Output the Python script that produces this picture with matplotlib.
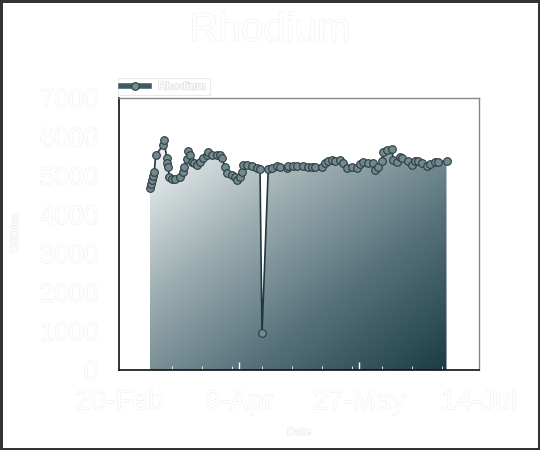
import matplotlib
matplotlib.use('Agg')
import matplotlib.pyplot as plt
import matplotlib.dates as mdates
import matplotlib.patheffects as pe
from matplotlib.colors import LinearSegmentedColormap
import numpy as np
import datetime as dt

# series: days after 20-Feb-2007 and price in USD/oz
start_date = dt.datetime(2007, 2, 20)
day_offset = [12.4, 12.8, 13.2, 13.7, 14.1, 14.7, 17.7, 18.0, 19.1, 19.3,
              19.7, 20.1, 21.1, 22.4, 24.4, 25.5, 26.1, 27.1, 27.7, 28.4,
              29.1, 30.0, 31.1, 32.4, 33.7, 35.1, 35.7, 37.1, 39.1, 40.4,
              41.1, 42.4, 43.1, 45.1, 46.4, 47.1, 48.4, 49.1, 49.7, 51.1,
              53.1, 55.1, 56.4, 57.2, 59.7, 61.1, 63.1, 64.4, 67.1, 67.7,
              69.7, 71.1, 73.7, 75.7, 77.1, 78.4, 81.1, 82.4, 83.7, 85.1,
              86.4, 88.4, 89.7, 91.3, 93.1, 95.1, 96.4, 97.7, 99.7, 101.7,
              102.4, 103.7, 105.1, 105.7, 107.1, 109.1, 109.7, 111.1, 112.4, 113.1,
              115.7, 117.1, 118.4, 119.7, 121.1, 123.1, 124.4, 126.4, 127.7, 131.0]
price = [4680, 4780, 4890, 5000, 5100, 5530, 5790, 5920, 5450, 5320,
         5230, 4970, 4910, 4910, 4970, 5100, 5230, 5420, 5640, 5530,
         5360, 5320, 5280, 5360, 5450, 5530, 5620, 5530, 5530, 5530,
         5450, 5230, 5060, 5020, 4970, 4890, 4970, 5100, 5280, 5280,
         5250, 5190, 5170, 950, 5170, 5190, 5260, 5230, 5190, 5260,
         5260, 5260, 5260, 5230, 5230, 5230, 5230, 5320, 5380, 5400,
         5380, 5400, 5320, 5190, 5230, 5190, 5290, 5360, 5320, 5320,
         5150, 5230, 5380, 5620, 5660, 5690, 5400, 5360, 5490, 5450,
         5380, 5280, 5380, 5380, 5320, 5260, 5290, 5360, 5360, 5380]
tick_dates = ['2007-02-20', '2007-04-09', '2007-05-27', '2007-07-14']
tick_labels = ['20-Feb', '9-Apr', '27-May', '14-Jul']
y_ticks = [0, 1000, 2000, 3000, 4000, 5000, 6000, 7000]

plt.rcParams['font.family'] = ['Liberation Sans', 'DejaVu Sans']

x = np.array([mdates.date2num(start_date + dt.timedelta(days=d)) for d in day_offset])
y = np.array(price, dtype=float)

fig = plt.figure(figsize=(5.4, 4.5), dpi=100)
fig.patch.set_facecolor('white')
fig.patch.set_edgecolor('#333333')
fig.patch.set_linewidth(2.5)
ax = fig.add_axes([119/540, 1-370/450, 360/540, 272/450])

xmin = mdates.date2num(dt.datetime(2007, 2, 20))
xmax = mdates.date2num(dt.datetime(2007, 7, 14))

# gradient fill under the line
poly = ax.fill_between(x, y, 0, facecolor='none', edgecolor='none')
cmap = LinearSegmentedColormap.from_list('rh', ['#f7f9f9', '#9fb0b3', '#55707a', '#1c3d45'])
gx, gy = np.meshgrid(np.linspace(0, 1, 300), np.linspace(0, 1, 300))
grad = (gx + gy) / 2.0
img = ax.imshow(grad, cmap=cmap, extent=[x.min(), x.max(), 0, y.max()],
                origin='upper', aspect='auto', zorder=1)
path = poly.get_paths()[0]
img.set_clip_path(path, transform=ax.transData)

stroke = [pe.withStroke(linewidth=0.7, foreground='#ededed')]

ax.plot(x, y, color='#1e3a40', lw=1.2, marker='o', ms=5.5,
        mfc='#72898e', mec='#2a3c40', mew=0.8, zorder=3, label='Rhodium')

ax.set_xlim(xmin, xmax)
ax.set_ylim(0, 7000)
ax.set_xticks([mdates.date2num(dt.datetime.strptime(d, '%Y-%m-%d')) for d in tick_dates])
ax.set_xticklabels(tick_labels)
ax.set_yticks(y_ticks)
ax.xaxis.set_minor_locator(mdates.DayLocator(interval=12))
ax.yaxis.set_minor_locator(plt.MultipleLocator(200))
ax.tick_params(which='both', direction='in', color='white')
ax.tick_params(which='major', length=6, width=1)
ax.tick_params(which='minor', length=3, width=0.6)
ax.tick_params(axis='x', labelsize=20, labelcolor='white', pad=14)
ax.tick_params(axis='y', labelsize=19, labelcolor='white', pad=15)
for lab in ax.get_xticklabels() + ax.get_yticklabels():
    lab.set_path_effects(stroke)

for s in ['left', 'bottom']:
    ax.spines[s].set_color('#111111')
    ax.spines[s].set_linewidth(1.2)
for s in ['top', 'right']:
    ax.spines[s].set_color('#888888')
    ax.spines[s].set_linewidth(1.0)

fig.text(0.5, 1-30/450, 'Rhodium', ha='center', va='center', fontsize=29,
         color='white', path_effects=stroke)
fig.text(15/540, 1-233/450, 'USD/oz', ha='center', va='center', rotation=90,
         fontsize=8, fontweight='bold', color='white',
         path_effects=[pe.withStroke(linewidth=0.7, foreground='#e8e8e8')])
fig.text(299/540, 1-432/450, 'Date', ha='center', va='center',
         fontsize=8, fontweight='bold', color='white',
         path_effects=[pe.withStroke(linewidth=0.7, foreground='#e8e8e8')])

leg = fig.legend(loc='lower left', bbox_to_anchor=(118/540, 1-95/450),
                 fontsize=8, frameon=True, fancybox=False, borderpad=0.3,
                 handlelength=2.5, borderaxespad=0)
leg.get_frame().set_edgecolor('#e6e6e6')
leg.get_frame().set_linewidth(0.8)
for t in leg.get_texts():
    t.set_color('white')
    t.set_fontweight('bold')
    t.set_path_effects([pe.withStroke(linewidth=0.8, foreground='#d8d8d8')])
for h in leg.legend_handles:
    h.set_linewidth(4)
    h.set_color('#3f5a60')

fig.savefig('out.png', dpi=100, facecolor=fig.get_facecolor(), edgecolor=fig.get_edgecolor())
